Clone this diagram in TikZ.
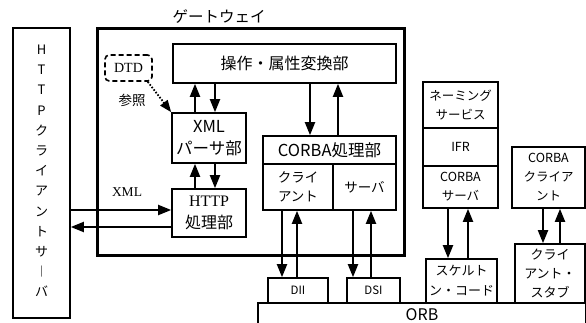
\documentclass[tikz,border=0pt]{standalone}
\usepackage{fontspec}
\setmainfont{Noto Sans CJK JP}
\newfontfamily\serifrm{Liberation Serif}
\usetikzlibrary{positioning,arrows.meta}
\tikzset {
    style A/.style={
        draw=black,
        line width=1.6pt,
        rectangle, % plain box
        inner sep=1pt,
        align=center,
        font=\fontsize{13.5}{19}\selectfont,
    },
    style B/.style={
        draw=black,
        line width=3pt,
        rectangle, % gateway frame
    },
    style C/.style={
        draw=black,
        line width=1.6pt,
        dash pattern=on 5pt off 3pt,
        rounded corners=.15cm,
        rectangle,
        inner sep=1pt,
        font=\serifrm\fontsize{14}{16}\selectfont,
    },
    style E/.style={
        line width=1.9pt,
        -{Triangle[length=13pt,width=10pt]},
    },
    style F/.style={
        line width=1.8pt,
        dash pattern=on 1.6pt off 1.6pt,
        -{Triangle[length=12pt,width=9pt]},
    },
}

\begin{document}
\begin{tikzpicture}[x=1pt, y=-1pt]
        \useasboundingbox (0,0) rectangle (586,323);

        % left side
        \node[style A, minimum width=57, minimum height=290] at (41.5,173) (client) {};
        \node[align=center, font=\fontsize{13}{20.2}\selectfont] at (41.5,171) (clienttext)
            {H\\T\\T\\P\\ク\\ラ\\イ\\ア\\ン\\ト\\サ\\︱\\バ};

        % gateway
        \node[style B, minimum width=307, minimum height=226] at (250.5,142) (gw) {};
        \node[font=\fontsize{15.5}{18}\selectfont] at (219,17) (gwlabel) {ゲートウェイ};
        \node[style A, minimum width=223, minimum height=39, font=\fontsize{16}{18}\selectfont] at (284.5,63.5) (conv) {操作・属性変換部};
        \node[style C, minimum width=47, minimum height=26] at (128.5,68) (dtd) {DTD};
        \node[font=\fontsize{13.5}{16}\selectfont] at (132,100) (ref) {参照};
        \node[style A, minimum width=74, minimum height=50, font=\fontsize{16.5}{22}\selectfont] at (209,138) (xml) {XML\\パーサ部};
        \node[style A, minimum width=74, minimum height=48, font=\fontsize{16}{22}\selectfont] at (209,213) (http) {{\serifrm HTTP}\\処理部};
        \node[font=\serifrm\fontsize{13.5}{16}\selectfont] at (127,192) (xmllbl) {XML};
        \node[style A, minimum width=133, minimum height=28, font=\fontsize{16.5}{18}\selectfont] at (329.5,150) (corba) {CORBA処理部};
        \node[style A, minimum width=70, minimum height=46] at (298,187) (cli) {クライ\\アント};
        \node[style A, minimum width=63, minimum height=46] at (364.5,187) (srv) {サーバ};

        % ORB side
        \node[style A, minimum width=60, minimum height=25, font=\fontsize{11.5}{14}\selectfont] at (298,290.5) (dii) {DII};
        \node[style A, minimum width=53, minimum height=25, font=\fontsize{11.5}{14}\selectfont] at (373.5,290.5) (dsi) {DSI};
        \node[style A, minimum width=328, minimum height=24, font=\fontsize{16}{18}\selectfont] at (422,315) (orb) {ORB};
        \node[style A, minimum width=75, minimum height=46, font=\fontsize{12.5}{19}\selectfont] at (460.5,105) (naming) {ネーミング\\サービス};
        \node[style A, minimum width=75, minimum height=38, font=\fontsize{12.5}{16}\selectfont] at (460.5,147) (ifr) {IFR};
        \node[style A, minimum width=75, minimum height=42, font=\fontsize{12.5}{19}\selectfont] at (460.5,187) (csrv) {CORBA\\サーバ};
        \node[style A, minimum width=71, minimum height=44, font=\fontsize{13}{20}\selectfont] at (461.5,281) (skel) {スケルト\\ン・コード};
        \node[style A, minimum width=73, minimum height=61, font=\fontsize{12.5}{19}\selectfont] at (548.5,177.5) (ccli) {CORBA\\クライア\\ント};
        \node[style A, minimum width=70, minimum height=59, font=\fontsize{13}{19}\selectfont] at (550,273.5) (stub) {クライ\\アント・\\スタブ};

        \draw[style E] ([xshift=-14pt]xml.north) -- ([xshift=-14pt]xml.north |- conv.south);
        \draw[style E] ([xshift=6pt]xml.north |- conv.south) -- ([xshift=6pt]xml.north);
        \draw[style E] ([xshift=-14pt]http.north) -- ([xshift=-14pt]http.north |- xml.south);
        \draw[style E] ([xshift=6pt]http.north |- xml.south) -- ([xshift=6pt]http.north);
        \draw[style E] ([xshift=-19.5pt]corba.north |- conv.south) -- ([xshift=-19.5pt]corba.north);
        \draw[style E] ([xshift=8.5pt]corba.north) -- ([xshift=8.5pt]corba.north |- conv.south);
        \draw[style E] ([yshift=3pt]http.west -| client.east) -- ([yshift=3pt]http.west);
        \draw[style E] ([yshift=-14pt]http.west) -- ([yshift=-14pt]http.west -| client.east);
        \draw[style F] ([xshift=-5pt]dtd.south east) -- (xml.north west);

        \draw[style E] ([xshift=-16pt]dii.north |- cli.south) -- ([xshift=-16pt]dii.north);
        \draw[style E] ([xshift=-1pt]dii.north) -- ([xshift=-1pt]dii.north |- cli.south);
        \draw[style E] ([xshift=-20.5pt]dsi.north |- srv.south) -- ([xshift=-20.5pt]dsi.north);
        \draw[style E] ([xshift=-2.5pt]dsi.north) -- ([xshift=-2.5pt]dsi.north |- srv.south);
        \draw[style E] ([xshift=-13.5pt]skel.north |- csrv.south) -- ([xshift=-13.5pt]skel.north);
        \draw[style E] ([xshift=6.5pt]skel.north) -- ([xshift=6.5pt]skel.north |- csrv.south);
        \draw[style E] ([xshift=-7pt]stub.north |- ccli.south) -- ([xshift=-7pt]stub.north);
        \draw[style E] ([xshift=10pt]stub.north) -- ([xshift=10pt]stub.north |- ccli.south);
    \end{tikzpicture}
\end{document}
